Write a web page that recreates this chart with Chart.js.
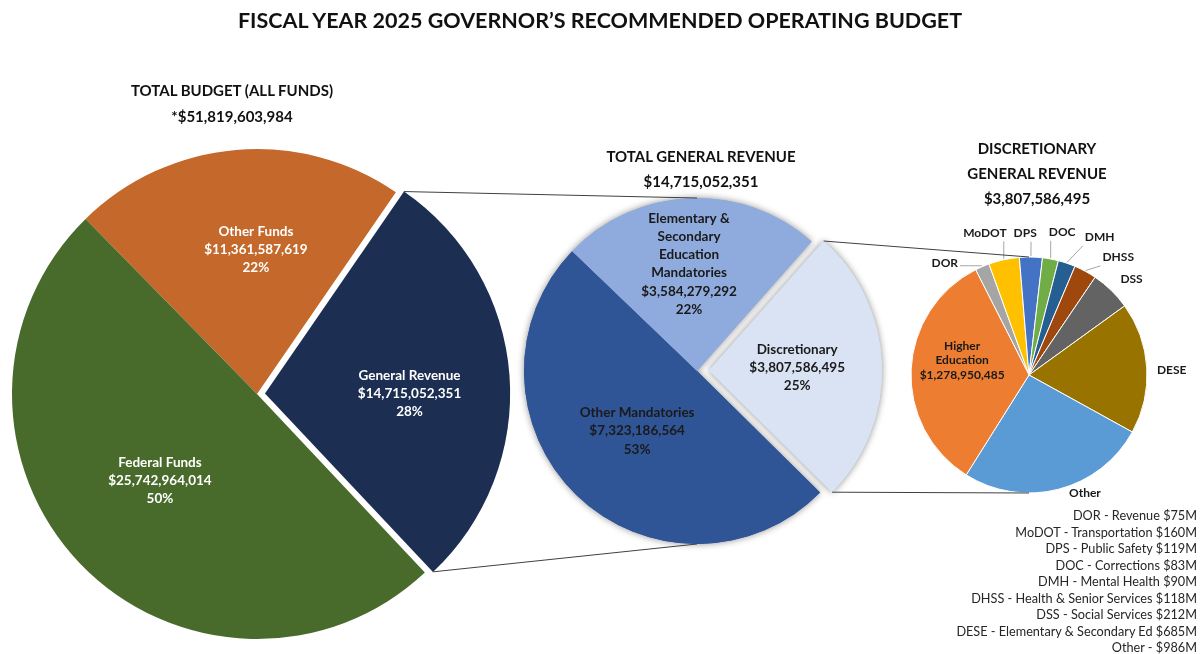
<!DOCTYPE html>
<html lang="en">
<head>
<meta charset="utf-8">
<title>FY2025 Governor's Recommended Operating Budget</title>
<script src="https://cdn.jsdelivr.net/npm/chart.js@4.4.1/dist/chart.umd.min.js"></script>
<style>
  html, body { margin: 0; padding: 0; background: #fff; }
  #page { position: relative; width: 1200px; height: 654px; overflow: hidden; font-family: Lato, 'Open Sans', sans-serif; color: #111; }
  #page canvas { position: absolute; left: 0; top: 0; }
  .head { position: absolute; transform: translate(-50%, -50%); white-space: nowrap; font-weight: bold; text-align: center; }
  #legend { position: absolute; right: 3px; top: 507px; text-align: right; font-size: 12.7px; line-height: 16.5px; color: #262626; white-space: nowrap; }
</style>
</head>
<body>
<div id="page">
  <canvas id="fundsChart" width="1200" height="654"></canvas>
  <canvas id="grChart" width="1200" height="654"></canvas>
  <canvas id="discChart" width="1200" height="654"></canvas>

  <div class="head" style="left:600px;top:20px;font-size:21.5px">FISCAL YEAR 2025 GOVERNOR’S RECOMMENDED OPERATING BUDGET</div>
  <div class="head" style="left:232px;top:90px;font-size:15px">TOTAL BUDGET (ALL FUNDS)</div>
  <div class="head" id="fundsTotal" style="left:232px;top:116px;font-size:15px"></div>
  <div class="head" style="left:701px;top:156px;font-size:15px">TOTAL GENERAL REVENUE</div>
  <div class="head" id="grTotal" style="left:701px;top:181px;font-size:15px"></div>
  <div class="head" style="left:1037px;top:148px;font-size:15px">DISCRETIONARY</div>
  <div class="head" style="left:1037px;top:173px;font-size:15px">GENERAL REVENUE</div>
  <div class="head" id="discTotal" style="left:1037px;top:198px;font-size:15px"></div>
  <div id="legend"></div>
</div>

<script>
// ---- data ----
const fundLabels = ['Other Funds', 'General Revenue', 'Federal Funds'];
const fundValues = [11361587619, 14715052351, 25742964014];
const fundShares = ['22%', '28%', '50%'];

const grLabels = ['Discretionary', 'Other Mandatories', 'Elementary &\nSecondary\nEducation\nMandatories'];
const grValues = [3807586495, 7323186564, 3584279292];
const grShares = ['25%', '53%', '22%'];

const deptCodes = ['DOR', 'MoDOT', 'DPS', 'DOC', 'DMH', 'DHSS', 'DSS', 'DESE', 'Other', 'Higher\nEducation'];
const deptNames = ['Revenue', 'Transportation', 'Public Safety', 'Corrections', 'Mental Health',
  'Health & Senior Services', 'Social Services', 'Elementary & Secondary Ed', '', ''];
const deptValues = [75e6, 160e6, 119e6, 83e6, 90e6, 118e6, 212e6, 685e6, 986e6, 1278950485];

// ---- look ----
const fundColors = ['#c4692b', '#1c2e51', '#486b2c'];
const grColors = ['#dae3f3', '#2f5597', '#8faadc'];
const deptColors = ['#a5a5a5', '#ffc000', '#4472c4', '#70ad47', '#255e91',
  '#9e480e', '#636363', '#997300', '#5b9bd5', '#ed7d31'];

// label spot per slice: [share of radius, turn away from mid angle in degrees]
const fundPlace = [[0.59, 4.5], [0.59, 4.4], [0.53, 2.2]];
const grPlace = [[0.51, 0], [0.49, 0.7], [0.62, -1.9]];
const deptPlace = [[1.19, -13.5], [1.26, -5], [1.2, -2.5], [1.24, 2.6], [1.31, 8.5],
  [1.25, 8.7], [1.19, 2.8], [1.21, 1.4], [1.11, -10.8], [0.58, 9.7]];

const W = 1200, H = 654;
const money = v => '$' + Math.round(v).toLocaleString('en-US');
const sum = a => a.reduce((s, v) => s + v, 0);
const rad = d => d * Math.PI / 180;

document.getElementById('fundsTotal').textContent = '*' + money(sum(fundValues));
document.getElementById('grTotal').textContent = money(sum(grValues));
document.getElementById('discTotal').textContent = money(grValues[0]);
document.getElementById('legend').innerHTML = deptCodes.slice(0, 9).map((c, i) =>
  deptNames[i] ? `${c} - ${deptNames[i]} $${deptValues[i] / 1e6}M` : `${c} - $${deptValues[i] / 1e6}M`
).map(t => t.replace(/&/g, '&amp;')).join('<br>');

// where an arc really sits once its offset is applied (v4 shifts by offset / 4)
function arcGeom(arc) {
  const mid = (arc.startAngle + arc.endAngle) / 2;
  const shift = (arc.options.offset || 0) / 4;
  return {
    cx: arc.x + Math.cos(mid) * shift,
    cy: arc.y + Math.sin(mid) * shift,
    r: arc.outerRadius, start: arc.startAngle, end: arc.endAngle, mid
  };
}

function sliceText(cfg) {
  return {
    id: 'sliceText',
    afterDatasetsDraw(chart) {
      const ctx = chart.ctx;
      ctx.save();
      ctx.font = cfg.font;
      ctx.textAlign = 'center';
      ctx.textBaseline = 'middle';
      chart.getDatasetMeta(0).data.forEach((arc, i) => {
        const g = arcGeom(arc);
        const [k, nudge] = cfg.place[i];
        const a = g.mid + rad(nudge);
        const x = g.cx + Math.cos(a) * g.r * k;
        const y = g.cy + Math.sin(a) * g.r * k;
        const lines = cfg.lines[i];
        const top = y - (lines.length - 1) * cfg.lineHeight / 2;
        if (k > 1) {
          // leader from the slice edge to the nearest side of the label
          const w = Math.max(...lines.map(t => ctx.measureText(t).width));
          const h = lines.length * cfg.lineHeight;
          const ex = g.cx + Math.cos(g.mid) * (g.r + 1);
          const ey = g.cy + Math.sin(g.mid) * (g.r + 1);
          const qx = Math.min(Math.max(ex, x - w / 2 - 2), x + w / 2 + 2);
          const qy = Math.min(Math.max(ey, y - h / 2 + 1), y + h / 2 + 1);
          if (Math.hypot(ex - qx, ey - qy) > 13) {
            ctx.strokeStyle = '#a6a6a6';
            ctx.lineWidth = 1;
            ctx.beginPath();
            ctx.moveTo(ex, ey);
            ctx.lineTo(qx, qy);
            ctx.stroke();
          }
        }
        ctx.fillStyle = cfg.color;
        lines.forEach((t, j) => ctx.fillText(t, x, top + j * cfg.lineHeight));
      });
      ctx.restore();
    }
  };
}

// soft shadow behind the whole pie, drawn before the slices cover it
const softShadow = {
  id: 'softShadow',
  beforeDatasetsDraw(chart) {
    const ctx = chart.ctx;
    ctx.save();
    ctx.shadowColor = 'rgba(0,0,0,0.45)';
    ctx.shadowBlur = 7;
    chart.getDatasetMeta(0).data.forEach(a => a.draw(ctx));
    ctx.restore();
  }
};

// lines from an exploded slice of another pie to the top and bottom of this one
function connector(sourceId, index) {
  return {
    id: 'connector',
    afterDraw(chart) {
      const src = Chart.getChart(sourceId);
      if (!src) return;
      const g = arcGeom(src.getDatasetMeta(0).data[index]);
      const me = chart.getDatasetMeta(0).data[0];
      const ctx = chart.ctx;
      ctx.save();
      ctx.strokeStyle = '#404040';
      ctx.lineWidth = 1;
      ctx.beginPath();
      ctx.moveTo(g.cx + Math.cos(g.start) * g.r, g.cy + Math.sin(g.start) * g.r);
      ctx.lineTo(me.x, me.y - me.outerRadius);
      ctx.moveTo(g.cx + Math.cos(g.end) * g.r, g.cy + Math.sin(g.end) * g.r);
      ctx.lineTo(me.x, me.y + me.outerRadius);
      ctx.stroke();
      ctx.restore();
    }
  };
}

function centerPadding(cx, cy) {
  return {
    left: Math.max(0, 2 * cx - W), right: Math.max(0, W - 2 * cx),
    top: Math.max(0, 2 * cy - H), bottom: Math.max(0, H - 2 * cy)
  };
}

function pieChart(id, cfg) {
  return new Chart(document.getElementById(id), {
    type: 'pie',
    data: {
      labels: cfg.labels,
      datasets: [{
        data: cfg.values,
        backgroundColor: cfg.colors,
        borderWidth: cfg.border || 0,
        borderColor: '#ffffff',
        offset: cfg.offset
      }]
    },
    options: {
      responsive: false,
      animation: false,
      events: [],
      rotation: cfg.rotation,
      radius: cfg.radius,
      layout: { padding: centerPadding(cfg.cx, cfg.cy) },
      plugins: { legend: { display: false }, tooltip: { enabled: false } }
    },
    plugins: cfg.plugins
  });
}

pieChart('fundsChart', {
  labels: fundLabels, values: fundValues, colors: fundColors,
  offset: [0, 32, 0], rotation: -44.4, radius: 245, cx: 257, cy: 394,
  plugins: [sliceText({
    lines: fundLabels.map((l, i) => [l, money(fundValues[i]), fundShares[i]]),
    place: fundPlace, font: 'bold 13.5px Lato', color: '#ffffff', lineHeight: 18
  })]
});

pieChart('grChart', {
  labels: grLabels, values: grValues, colors: grColors,
  offset: [48, 0, 0], rotation: 41.5, radius: 173, cx: 697, cy: 371,
  plugins: [softShadow, sliceText({
    lines: grLabels.map((l, i) => [...l.split('\n'), money(grValues[i]), grShares[i]]),
    place: grPlace, font: 'bold 13.5px Lato', color: '#1a1a1a', lineHeight: 18.2
  }), connector('fundsChart', 1)]
});

pieChart('discChart', {
  labels: deptCodes, values: deptValues, colors: deptColors, border: 1,
  rotation: -26.9, radius: 118, cx: 1029, cy: 375,
  plugins: [sliceText({
    lines: deptCodes.map((c, i) => i === deptCodes.length - 1
      ? [...c.split('\n'), money(deptValues[i])] : [c]),
    place: deptPlace, font: 'bold 12px Lato', color: '#1a1a1a', lineHeight: 14.7
  }), connector('grChart', 0)]
});
</script>
</body>
</html>
